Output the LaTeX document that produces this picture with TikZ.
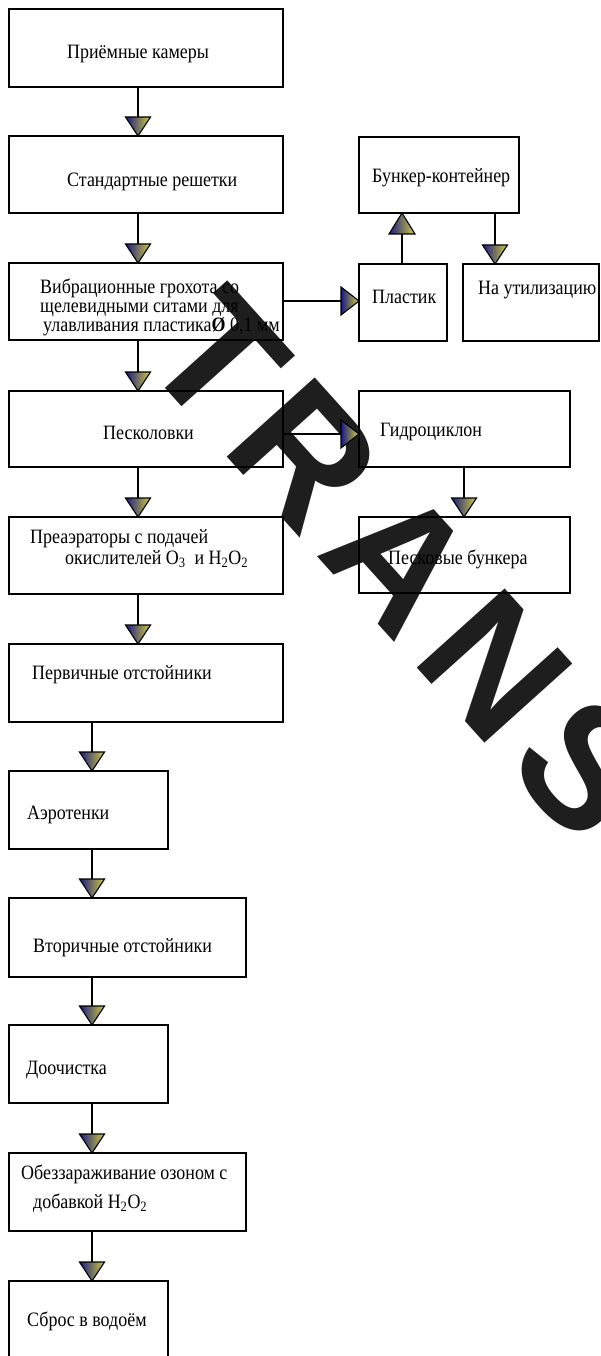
\documentclass[tikz,border=0pt]{standalone}
\usepackage{fontspec}
\setmainfont{Liberation Serif}[FakeStretch=0.88]
\newfontfamily\wmfont{Liberation Sans}[LetterSpace=10]
\definecolor{tblue}{RGB}{25,25,130}
\definecolor{tyel}{RGB}{210,205,65}
\definecolor{wmgray}{RGB}{30,30,30}
\tikzset{
  box/.style={draw, line width=2.8pt, anchor=north west, inner sep=0pt, outer sep=0pt},
  lbl/.style={anchor=base west, inner sep=0pt, font=\fontsize{20.4}{19}\selectfont},
  conn/.style={line width=2.8pt},
  tri/.style={draw=black, line width=1.1pt, left color=tblue, right color=tyel, line join=miter},
}
\newcommand\mybox[5]{\node[box,minimum width={(#4-#2)*1pt},minimum height={(#5-#3)*1pt}] (#1) at (#2,#3) {};}
\newcommand\downtri[1]{\path[tri] (#1) -- ++(-12.5,-19) -- ++(25,0) -- cycle;}
\newcommand\uptri[1]{\path[tri] (#1) -- ++(-13,21) -- ++(26,0) -- cycle;}
\newcommand\righttri[1]{\path[tri] (#1) -- ++(-18,-14) -- ++(0,28) -- cycle;}
\begin{document}
\begin{tikzpicture}[x=1pt,y=-1pt]
\path[fill=white] (0,0) rectangle (601,1356);
\useasboundingbox (0,0) rectangle (601,1356);
% watermark
\node[rotate=-48, anchor=base west, text=wmgray, inner sep=0pt,
  font=\wmfont\bfseries\fontsize{172}{172}\selectfont] (wm) at (138,358) {TRANS};
% column coordinates
\coordinate (c1) at (138,0);
\coordinate (c2) at (92,0);
\coordinate (c3) at (402,0);
\coordinate (c4) at (495,0);
\coordinate (c5) at (464,0);
\coordinate (h1) at (0,301);
\coordinate (h2) at (0,434);
% boxes
\mybox{b1}{9}{9}{283}{87}
\mybox{b2}{9}{136}{283}{213}
\mybox{b3}{9}{263}{283}{340}
\mybox{b4}{9}{391}{283}{467}
\mybox{b5}{9}{517}{283}{594}
\mybox{b6}{9}{644}{283}{722}
\mybox{b7}{9}{771}{168}{849}
\mybox{b8}{9}{898}{246}{977}
\mybox{b9}{9}{1025}{168}{1103}
\mybox{b10}{9}{1153}{246}{1231}
\mybox{b11}{9}{1281}{168}{1368}
\mybox{r1}{359}{137}{519}{213}
\mybox{r2}{359}{264}{447}{341}
\mybox{r3}{463}{264}{599}{341}
\mybox{r4}{359}{391}{570}{467}
\mybox{r5}{359}{517}{570}{593}
% texts
\node[lbl] (t1) at (67,59) {Приёмные камеры};
\node[lbl] (t2) at (67,187) {Стандартные решетки};
\node[lbl] (t3a) at (40,293) {Вибрационные грохота со};
\node[lbl] (t3b) at (40,312) {щелевидными ситами для};
\node[lbl] (t3c) at (43,331) {улавливания пластика\textbf{Ø} 0,1 мм};
\node[lbl] (t4) at (103,439) {Песколовки};
\node[lbl] (t5a) at (30,543) {Преаэраторы с подачей};
\node[lbl] (t5b) at (65,564) {окислителей O\textsubscript{3}\ \ и H\textsubscript{2}O\textsubscript{2}};
\node[lbl] (t6) at (32,679) {Первичные отстойники};
\node[lbl] (t7) at (27,819) {Аэротенки};
\node[lbl] (t8) at (33,952) {Вторичные отстойники};
\node[lbl] (t9) at (26,1074) {Доочистка};
\node[lbl] (t10a) at (21,1179) {Обеззараживание озоном с};
\node[lbl] (t10b) at (33,1208) {добавкой H\textsubscript{2}O\textsubscript{2}};
\node[lbl] (t11) at (27,1326) {Сброс в водоём};
\node[lbl] (tr1) at (372,183) {Бункер-контейнер};
\node[lbl] (tr2) at (372,303) {Пластик};
\node[lbl] (tr3) at (478,294) {На утилизацию};
\node[lbl] (tr4) at (380,436) {Гидроциклон};
\node[lbl] (tr5) at (388,564) {Песковые бункера};
% connectors
\draw[conn] (b1.south -| c1) -- (b2.north -| c1); \downtri{b2.north -| c1}
\draw[conn] (b2.south -| c1) -- (b3.north -| c1); \downtri{b3.north -| c1}
\draw[conn] (b3.south -| c1) -- (b4.north -| c1); \downtri{b4.north -| c1}
\draw[conn] (b4.south -| c1) -- (b5.north -| c1); \downtri{b5.north -| c1}
\draw[conn] (b5.south -| c1) -- (b6.north -| c1); \downtri{b6.north -| c1}
\draw[conn] (b6.south -| c2) -- (b7.north -| c2); \downtri{b7.north -| c2}
\draw[conn] (b7.south -| c2) -- (b8.north -| c2); \downtri{b8.north -| c2}
\draw[conn] (b8.south -| c2) -- (b9.north -| c2); \downtri{b9.north -| c2}
\draw[conn] (b9.south -| c2) -- (b10.north -| c2); \downtri{b10.north -| c2}
\draw[conn] (b10.south -| c2) -- (b11.north -| c2); \downtri{b11.north -| c2}
\draw[conn] (b3.east |- h1) -- (r2.west |- h1); \righttri{r2.west |- h1}
\draw[conn] (b4.east |- h2) -- (r4.west |- h2); \righttri{r4.west |- h2}
\draw[conn] (r2.north -| c3) -- (r1.south -| c3); \uptri{r1.south -| c3}
\draw[conn] (r1.south -| c4) -- (r3.north -| c4); \downtri{r3.north -| c4}
\draw[conn] (r4.south -| c5) -- (r5.north -| c5); \downtri{r5.north -| c5}
\end{tikzpicture}
\end{document}
